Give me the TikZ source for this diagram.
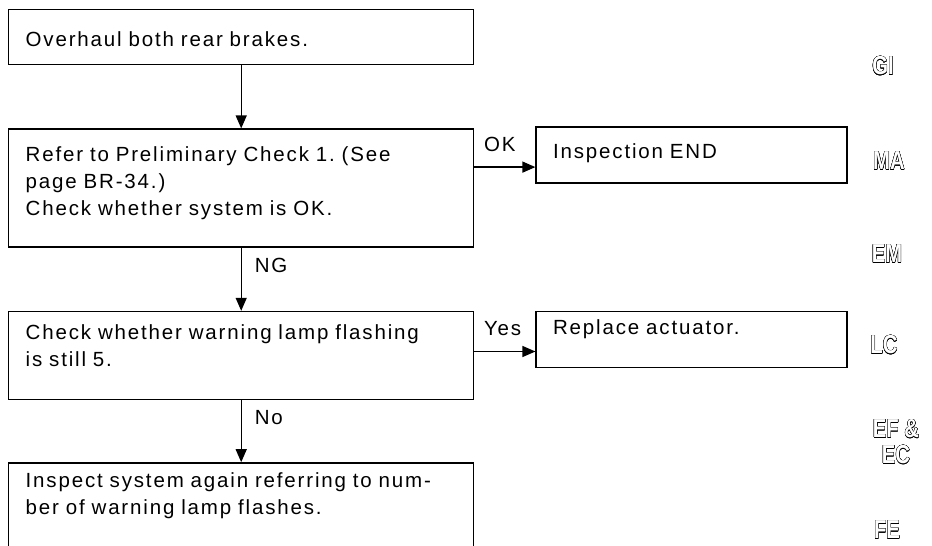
\documentclass[tikz,border=0pt]{standalone}
\usepackage{fontspec}
\setmainfont{Liberation Sans}[LetterSpace=9]
\newfontfamily\sidefont{Liberation Sans}
\usepackage{graphicx}
\usepackage{contour}
\contourlength{0.35pt}
\usetikzlibrary{arrows.meta,positioning}
\newcommand{\sidetag}[1]{\scalebox{0.78}[1]{{\color{white}\contour{black}{#1}}}}
\frenchspacing
\tikzset{
  stepbox/.style={draw,line width=1.4pt,anchor=north west,inner xsep=17pt,inner ysep=0pt,
    minimum width=465pt,text width=431pt,align=left},
  endbox/.style={stepbox,minimum width=311pt,text width=277pt},
}

\begin{document}
\begin{tikzpicture}[
    x=1pt,y=-1pt,
    font=\fontsize{20.5}{27}\selectfont,
    arrow/.style={-{Triangle[length=13pt,width=11pt]},line width=1.3pt},
    lbl/.style={inner sep=0pt},
    side/.style={inner sep=0pt,font=\sidefont\bfseries\fontsize{26}{30}\selectfont,align=center},
  ]
    \useasboundingbox (0,0) rectangle (932,546);
    \clip (0,0) rectangle (932,546);

    %────────── MAIN COLUMN ──────────
    \node[stepbox,text height=37pt,text depth=18pt] (over) at (8,9) {Overhaul both rear brakes.};
    \node[stepbox,text height=32pt,text depth=86pt,below=63pt of over] (refer) {Refer to Preliminary Check 1. (See\\page BR-34.)\\Check whether system is OK.};
    \node[stepbox,text height=28pt,text depth=60pt,below=63pt of refer] (check) {Check whether warning lamp flashing\\is still 5.};
    \node[stepbox,text height=25pt,text depth=120pt,below=62pt of check] (inspect) {Inspect system again referring to num-\\ber of warning lamp flashes.};

    %────────── RIGHT COLUMN ─────────
    \node[endbox,text height=31pt,text depth=25pt,right=61pt of refer.north east,anchor=north west,yshift=2pt] (insp) {Inspection END};
    \node[endbox,text height=23pt,text depth=33pt,right=61pt of check.north east,anchor=north west] (repl) {Replace actuator.};

    %────────── CONNECTORS ───────────
    \draw[arrow] (over) -- (refer);
    \draw[arrow] (refer) -- (check) node[lbl,pos=0,anchor=base west,xshift=13pt,yshift=-25pt] {NG};
    \draw[arrow] (check) -- (inspect) node[lbl,pos=0,anchor=base west,xshift=13pt,yshift=-24pt] {No};
    \coordinate (okend) at ([yshift=-12pt]insp.west);
    \draw[arrow] (refer.east |- okend) -- (okend) node[lbl,pos=0,anchor=base west,xshift=9pt,yshift=16pt] {OK};
    \coordinate (yesend) at ([yshift=-12pt]repl.west);
    \draw[arrow] (check.east |- yesend) -- (yesend) node[lbl,pos=0,anchor=base west,xshift=9pt,yshift=16pt] {Yes};

    %────────── SECTION TABS ─────────
    \node[side] (gi) at (883,66) {\sidetag{GI}};
    \node[side] (ma) at (889,161) {\sidetag{MA}};
    \node[side] (em) at (887,254) {\sidetag{EM}};
    \node[side] (lc) at (884,345) {\sidetag{LC}};
    \node[side] (ef) at (896,442) {\sidetag{EF \&}\\[-4pt]\sidetag{EC}};
    \node[side] (fe) at (887,530) {\sidetag{FE}};
  \end{tikzpicture}
\end{document}
